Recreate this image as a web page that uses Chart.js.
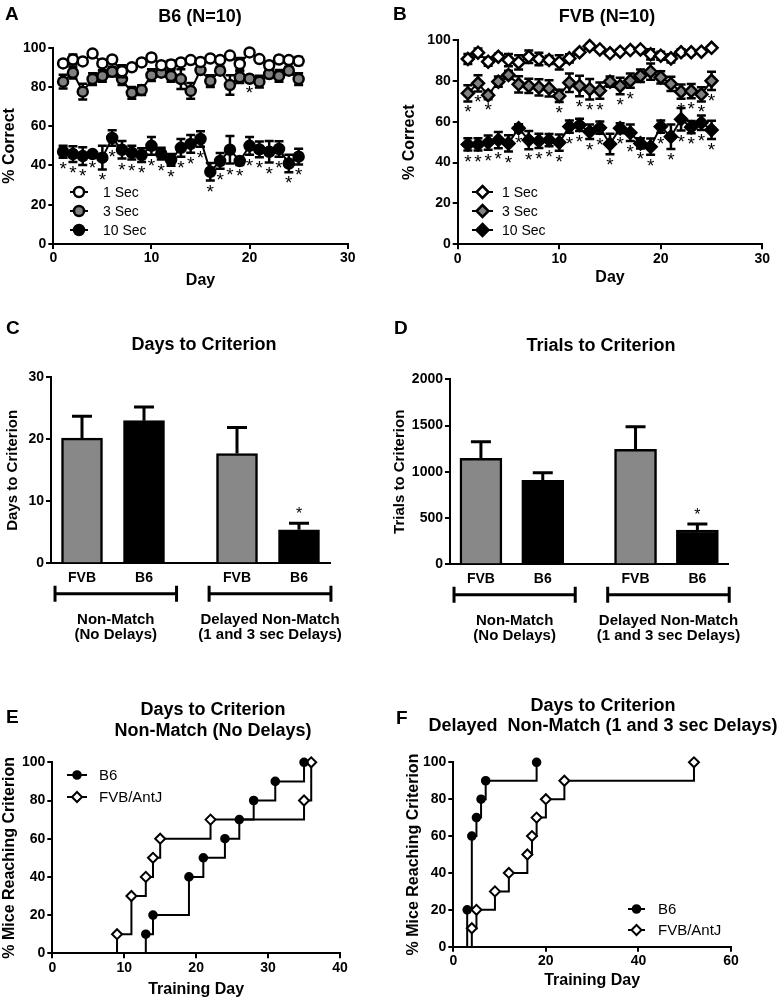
<!DOCTYPE html>
<html>
<head>
<meta charset="utf-8">
<script src="https://cdn.jsdelivr.net/npm/chart.js@4.4.0/dist/chart.umd.min.js"></script>
<style>
  body { margin: 0; background: #fff; width: 777px; height: 1000px; position: relative; overflow: hidden;
         font-family: "Liberation Sans", Arial, Helvetica, sans-serif; }
  canvas { position: absolute; }
  .lbl { position: absolute; font-weight: bold; color: #000; white-space: pre; line-height: 1; }
  .letter { font-size: 19px; transform: translate(0, -50%); }
  .title { font-size: 18px; transform: translate(-50%, -50%); }
</style>
</head>
<body>
<canvas id="chartA" width="388" height="300" style="left:0;top:0"></canvas>
<canvas id="chartB" width="389" height="300" style="left:388px;top:0"></canvas>
<canvas id="chartC" width="388" height="350" style="left:0;top:300px"></canvas>
<canvas id="chartD" width="389" height="350" style="left:388px;top:300px"></canvas>
<canvas id="chartE" width="388" height="350" style="left:0;top:650px"></canvas>
<canvas id="chartF" width="389" height="350" style="left:388px;top:650px"></canvas>

<div class="lbl letter" style="left:5px;top:12.5px">A</div>
<div class="lbl title" style="left:200px;top:16px">B6 (N=10)</div>
<div class="lbl letter" style="left:393px;top:12.5px">B</div>
<div class="lbl title" style="left:607px;top:16px">FVB (N=10)</div>
<div class="lbl letter" style="left:6px;top:327px">C</div>
<div class="lbl title" style="left:204px;top:344px">Days to Criterion</div>
<div class="lbl letter" style="left:394px;top:327px">D</div>
<div class="lbl title" style="left:601px;top:345px">Trials to Criterion</div>
<div class="lbl letter" style="left:6px;top:716px">E</div>
<div class="lbl title" style="left:213px;top:709px">Days to Criterion</div>
<div class="lbl title" style="left:213px;top:730px">Non-Match (No Delays)</div>
<div class="lbl letter" style="left:396px;top:717px">F</div>
<div class="lbl title" style="left:603px;top:705px">Days to Criterion</div>
<div class="lbl title" style="left:603px;top:725px">Delayed  Non-Match (1 and 3 sec Delays)</div>

<script>
const FONT = '"Liberation Sans", Arial, Helvetica, sans-serif';

// ---- A / B : % correct per day ----
const days = [1, 2, 3, 4, 5, 6, 7, 8, 9, 10, 11, 12, 13, 14, 15, 16, 17, 18, 19, 20, 21, 22, 23, 24, 25];
const delayNames = ['1 Sec', '3 Sec', '10 Sec'];

const b6Sec1 = [92, 94, 93, 97, 92, 94, 88, 90, 92.5, 95, 91, 91.5, 92.5, 93.7, 92.7, 94.5, 93.7, 96, 91.7, 97.6, 94.2, 91, 94, 93.7, 93.2];
const b6Sec1Err = [1.5, 2.5, 1, 1, 1.5, 1, 3, 1.5, 1, 1, 2, 2, 1.5, 1, 1, 1, 1, 1, 3, 1, 1, 2, 1.5, 1, 2];
const b6Sec3 = [82.7, 87.3, 77.6, 84, 85.6, 87.8, 84, 77, 78.4, 86, 87.3, 85.6, 84, 78, 88.6, 83, 88.3, 81, 85, 84.2, 82.7, 86.6, 85.6, 88.3, 84];
const b6Sec3Err = [3.5, 3, 4, 3, 3, 2.5, 3, 3, 2.5, 3, 2, 3, 5, 4, 2, 3, 2, 5, 3, 1.5, 3, 2, 3, 2, 3];
const b6Sec10 = [47, 45.8, 44.8, 45.8, 44, 54, 48, 46.5, 45.3, 50, 46, 42.8, 49, 51, 53.5, 36.8, 42.3, 48, 42.3, 50, 48.2, 47, 48.4, 41, 44.5];
const b6Sec10Err = [3, 4, 4.5, 1.5, 6, 4, 4.5, 3.5, 3.5, 4.5, 3, 3, 4.5, 4.5, 4, 4.5, 4, 7, 2, 4.5, 4, 5.5, 4, 4.5, 4];
const b6Star3 = [20];
const b6Star10 = [1, 2, 3, 4, 5, 6, 7, 8, 9, 10, 11, 12, 13, 14, 15, 16, 17, 18, 19, 20, 21, 22, 23, 24, 25];

const fvbSec1 = [90.7, 93.8, 89.4, 91.8, 90.2, 89, 91.8, 90.7, 90.2, 89, 91, 94, 97, 95.4, 93.5, 94.3, 95.1, 95.4, 93, 92.3, 91, 94, 94, 94.3, 96.2];
const fvbSec1Err = [2.5, 2, 2, 1.5, 3, 3.5, 3, 3, 2, 3.5, 2, 1, 1, 1, 1, 1, 1, 1, 2.5, 2, 2, 1.5, 1, 1, 1];
const fvbSec3 = [73.9, 78.8, 73, 79.6, 82.9, 78.3, 77.5, 76.8, 76.3, 72.6, 79.1, 77.5, 75.9, 75.2, 79.6, 77.5, 80.1, 82.5, 84.5, 81.7, 78.5, 74.7, 75, 73.4, 80];
const fvbSec3Err = [4, 4, 2, 2.5, 2, 4, 3.5, 4, 4, 3, 4.5, 5, 5, 4, 2.5, 4, 3.5, 3, 4, 3, 3.5, 3.5, 3.5, 3.5, 4.5];
const fvbSec10 = [48.9, 48.9, 49.8, 51, 49.4, 56.8, 51, 50.6, 51, 49.8, 57.6, 58.4, 55.1, 57.1, 49.1, 56.8, 54.6, 49.4, 47.8, 57.6, 52.7, 61.2, 57.3, 59.5, 56];
const fvbSec10Err = [3, 3, 3.5, 4, 4, 2, 4.5, 3.5, 3, 4, 3, 3, 3.5, 3, 5, 2.5, 4, 2.5, 4, 3, 6, 5.5, 3, 3.5, 4.5];
const fvbStar3 = [1, 2, 3, 10, 12, 13, 14, 16, 17, 22, 23, 24, 25];
const fvbStar10 = [1, 2, 3, 4, 5, 6, 7, 8, 9, 10, 11, 12, 13, 14, 15, 16, 17, 18, 19, 20, 21, 22, 23, 24, 25];

// ---- C / D : bars ----
const barLabels = ['FVB', 'B6', 'FVB', 'B6'];
const barSlots = [1, 3, 6, 8];
const groupNames = [['Non-Match', '(No Delays)'], ['Delayed Non-Match', '(1 and 3 sec Delays)']];
const daysMean = [20.2, 23.0, 17.7, 5.4];
const daysErr = [3.5, 2.2, 4.2, 1.05];
const trialsMean = [1146, 908, 1243, 371];
const trialsErr = [180, 83, 245, 65];
const barStars = [8];

// ---- E / F : cumulative % reaching criterion ----
const strainNames = ['B6', 'FVB/AntJ'];
const eB6Day = [13, 13, 14, 19, 21, 24, 26, 28, 31, 35];
const eB6Pct = [0, 10, 20, 40, 50, 60, 70, 80, 90, 100];
const eFvbDay = [9, 9, 11, 13, 14, 15, 22, 35, 36];
const eFvbPct = [0, 10, 30, 40, 50, 60, 70, 80, 100];
const fB6Day = [3, 3, 4, 5, 6, 7, 18];
const fB6Pct = [0, 20, 60, 70, 80, 90, 100];
const fFvbDay = [4, 4, 5, 9, 12, 16, 17, 18, 20, 24, 52];
const fFvbPct = [0, 10, 20, 30, 40, 50, 60, 70, 80, 90, 100];

const tickFont = { family: FONT, size: 14, weight: 'bold' };

function frame(W, H, pl, pt, pr, pb, yW, xH) {
  return { padding: { left: pl - yW, top: pt, right: W - pr, bottom: H - pb - xH } };
}

function yScale(min, max, step, title, width, titleSize) {
  return {
    type: 'linear', min, max,
    ticks: { stepSize: step, color: '#000', font: tickFont, padding: 2, callback: v => String(v) },
    grid: { drawOnChartArea: false, tickLength: 5, color: '#000', lineWidth: 2 },
    border: { color: '#000', width: 2 },
    title: { display: true, text: title, color: '#000', font: { family: FONT, size: titleSize, weight: 'bold' }, padding: { top: 0, bottom: 0 } },
    afterFit: s => { s.width = width; }
  };
}

function xScale(min, max, step, title, height) {
  return {
    type: 'linear', min, max,
    ticks: { stepSize: step, color: '#000', font: tickFont, padding: 1, callback: v => String(v) },
    grid: { drawOnChartArea: false, tickLength: 5, color: '#000', lineWidth: 2 },
    border: { color: '#000', width: 2 },
    title: { display: true, text: title, color: '#000', font: { family: FONT, size: 16, weight: 'bold' }, padding: { top: 0, bottom: 0 } },
    afterFit: s => { s.height = height; }
  };
}

function drawMarker(ctx, style, x, y, r, fill, lw) {
  ctx.beginPath();
  if (style === 'rectRot') {
    ctx.moveTo(x, y - r); ctx.lineTo(x + r, y); ctx.lineTo(x, y + r); ctx.lineTo(x - r, y); ctx.closePath();
  } else {
    ctx.arc(x, y, r, 0, Math.PI * 2);
  }
  ctx.fillStyle = fill;
  ctx.fill();
  ctx.lineWidth = lw;
  ctx.strokeStyle = '#000';
  ctx.stroke();
}

// error bars are drawn just before each dataset so markers sit on top
const errorBars = {
  id: 'errorBars',
  beforeDatasetDraw(chart, args) {
    const ds = chart.data.datasets[args.index];
    if (!ds.errs) return;
    const ctx = chart.ctx, ys = chart.scales.y;
    const cap = ds.errCap;
    ctx.save();
    ctx.strokeStyle = '#000';
    ctx.lineWidth = ds.errWidth;
    args.meta.data.forEach((el, i) => {
      const v = ds.data[i].y, e = ds.errs[i];
      const top = ys.getPixelForValue(v + e);
      const bot = ds.errUpOnly ? el.y : ys.getPixelForValue(v - e);
      ctx.beginPath();
      ctx.moveTo(el.x, top); ctx.lineTo(el.x, bot);
      ctx.moveTo(el.x - cap, top); ctx.lineTo(el.x + cap, top);
      if (!ds.errUpOnly) { ctx.moveTo(el.x - cap, bot); ctx.lineTo(el.x + cap, bot); }
      ctx.stroke();
    });
    ctx.restore();
  }
};

const starMarks = {
  id: 'starMarks',
  afterDatasetsDraw(chart) {
    const ctx = chart.ctx, ys = chart.scales.y;
    ctx.save();
    ctx.fillStyle = '#000';
    ctx.textAlign = 'center';
    ctx.textBaseline = 'alphabetic';
    chart.data.datasets.forEach((ds, di) => {
      if (!ds.stars) return;
      const meta = chart.getDatasetMeta(di);
      ctx.font = ds.starSize + 'px ' + FONT;
      ds.data.forEach((p, i) => {
        if (!ds.stars.includes(p.x)) return;
        const el = meta.data[i];
        if (ds.starAbove) ctx.fillText('*', el.x, ys.getPixelForValue(p.y + ds.errs[i]) - 4);
        else ctx.fillText('*', el.x, ys.getPixelForValue(p.y - ds.errs[i]) + 17);
      });
    });
    ctx.restore();
  }
};

const keyBox = {
  id: 'keyBox',
  afterDraw(chart, args, o) {
    const ctx = chart.ctx;
    ctx.save();
    chart.data.datasets.forEach((ds, i) => {
      const y = o.y + i * o.gap;
      ctx.strokeStyle = '#000';
      ctx.lineWidth = 2;
      ctx.beginPath(); ctx.moveTo(o.x, y); ctx.lineTo(o.x + o.len, y); ctx.stroke();
      drawMarker(ctx, ds.pointStyle, o.x + o.len / 2, y, ds.markR, ds.pointBackgroundColor, ds.pointBorderWidth);
      ctx.fillStyle = '#000';
      ctx.font = o.size + 'px ' + FONT;
      ctx.textAlign = 'left';
      ctx.textBaseline = 'middle';
      ctx.fillText(ds.label, o.textX, y + 1);
    });
    ctx.restore();
  }
};

const brackets = {
  id: 'brackets',
  afterDraw(chart, args, o) {
    const ctx = chart.ctx, xs = chart.scales.x;
    const y = chart.chartArea.bottom + o.drop;
    ctx.save();
    ctx.strokeStyle = '#000';
    ctx.fillStyle = '#000';
    ctx.lineWidth = 3;
    ctx.font = 'bold 15px ' + FONT;
    ctx.textAlign = 'center';
    ctx.textBaseline = 'middle';
    groupNames.forEach((lines, g) => {
      const x0 = xs.getPixelForValue(o.spans[g][0]), x1 = xs.getPixelForValue(o.spans[g][1]);
      ctx.beginPath();
      ctx.moveTo(x0, y); ctx.lineTo(x1, y);
      ctx.moveTo(x0, y - 8); ctx.lineTo(x0, y + 8);
      ctx.moveTo(x1, y - 8); ctx.lineTo(x1, y + 8);
      ctx.stroke();
      lines.forEach((t, k) => ctx.fillText(t, (x0 + x1) / 2, y + 26 + k * 15));
    });
    ctx.restore();
  }
};

const baseOptions = (layout, scales, extra) => ({
  responsive: false,
  animation: false,
  events: [],
  layout,
  scales,
  plugins: Object.assign({ legend: { display: false }, tooltip: { enabled: false }, title: { display: false } }, extra || {})
});

function delaySet(label, values, errs, stars, style, fill, r) {
  return {
    label,
    data: days.map((d, i) => ({ x: d, y: values[i] })),
    errs, stars, starSize: 19, errCap: 4.5, errWidth: 2.5, markR: r,
    borderColor: '#000', borderWidth: 2, tension: 0, clip: false,
    pointStyle: style, pointRadius: r, pointBorderWidth: 2.5,
    pointBackgroundColor: fill, pointBorderColor: '#000'
  };
}

// A
new Chart(document.getElementById('chartA'), {
  type: 'line',
  data: {
    datasets: [
      delaySet(delayNames[0], b6Sec1, b6Sec1Err, null, 'circle', '#fff', 5),
      delaySet(delayNames[1], b6Sec3, b6Sec3Err, b6Star3, 'circle', '#808080', 5),
      delaySet(delayNames[2], b6Sec10, b6Sec10Err, b6Star10, 'circle', '#000', 5)
    ]
  },
  options: baseOptions(frame(388, 300, 53.3, 47.7, 347.7, 244, 53.3, 46.6),
    { x: xScale(0, 30, 10, 'Day', 46.6), y: yScale(0, 100, 20, '% Correct', 53.3, 16) },
    { keyBox: { x: 70, y: 192, gap: 19, len: 18, textX: 103, size: 14 } }),
  plugins: [errorBars, starMarks, keyBox]
});

// B
new Chart(document.getElementById('chartB'), {
  type: 'line',
  data: {
    datasets: [
      delaySet(delayNames[0], fvbSec1, fvbSec1Err, null, 'rectRot', '#fff', 6),
      delaySet(delayNames[1], fvbSec3, fvbSec3Err, fvbStar3, 'rectRot', '#808080', 6),
      delaySet(delayNames[2], fvbSec10, fvbSec10Err, fvbStar10, 'rectRot', '#000', 6)
    ]
  },
  options: baseOptions(frame(389, 300, 69.7, 40, 374.3, 244.3, 57.3, 42.6),
    { x: xScale(0, 30, 10, 'Day', 42.6), y: yScale(0, 100, 20, '% Correct', 57.3, 16) },
    { keyBox: { x: 84, y: 192, gap: 19, len: 21, textX: 114, size: 14 } }),
  plugins: [errorBars, starMarks, keyBox]
});

function barChart(id, W, H, geo, means, errs, yMax, yStep, yTitle, yW) {
  const xs = xScale(0, 9, 1, '', 30);
  xs.title = { display: false };
  xs.offset = false;
  xs.grid = { drawOnChartArea: false, drawTicks: false, offset: false };
  xs.ticks = { color: '#000', font: tickFont, padding: 6, autoSkip: false, maxRotation: 0,
               callback: v => barLabels[barSlots.indexOf(v)] };
  xs.afterBuildTicks = s => { s.ticks = barSlots.map(v => ({ value: v })); };
  new Chart(document.getElementById(id), {
    type: 'bar',
    data: {
      datasets: [{
        data: barSlots.map((s, i) => ({ x: s, y: means[i] })),
        errs, stars: barStars, starAbove: true, starSize: 16, errUpOnly: true, errCap: 10, errWidth: 3,
        backgroundColor: ['#888888', '#000000', '#888888', '#000000'],
        borderColor: '#000', borderWidth: 2.5, barThickness: geo.bar, clip: false
      }]
    },
    options: baseOptions(frame(W, H, geo.l, geo.t, geo.r, geo.b, yW, 30),
      { x: xs, y: yScale(0, yMax, yStep, yTitle, yW, 15) },
      { brackets: { drop: 30.5, spans: [[0.13, 4.05], [5.1, 9.03]] } }),
    plugins: [errorBars, starMarks, brackets]
  });
}

barChart('chartC', 388, 350, { l: 51, t: 77.3, r: 330, b: 263.3, bar: 41 }, daysMean, daysErr, 30, 10, 'Days to Criterion', 46.7);
barChart('chartD', 389, 350, { l: 62, t: 79.3, r: 340.3, b: 264.3, bar: 42 }, trialsMean, trialsErr, 2000, 500, 'Trials to Criterion', 59);

function stepSet(label, xsArr, ysArr, style, fill, r) {
  return {
    label,
    data: xsArr.map((d, i) => ({ x: d, y: ysArr[i] })),
    stepped: true, markR: r,
    borderColor: '#000', borderWidth: 2, clip: false,
    pointStyle: style, pointRadius: c => (c.dataIndex === 0 ? 0 : r), pointBorderWidth: 2,
    pointBackgroundColor: fill, pointBorderColor: '#000'
  };
}

// E
new Chart(document.getElementById('chartE'), {
  type: 'line',
  data: {
    datasets: [
      stepSet(strainNames[0], eB6Day, eB6Pct, 'circle', '#000', 3.8),
      stepSet(strainNames[1], eFvbDay, eFvbPct, 'rectRot', '#fff', 5)
    ]
  },
  options: baseOptions(frame(388, 350, 52.3, 112.3, 340, 303.3, 52.3, 46.3),
    { x: xScale(0, 40, 10, 'Training Day', 46.3), y: yScale(0, 100, 20, '% Mice Reaching Criterion', 52.3, 16) },
    { keyBox: { x: 67, y: 125, gap: 22, len: 20, textX: 99, size: 15 } }),
  plugins: [keyBox]
});

// F
new Chart(document.getElementById('chartF'), {
  type: 'line',
  data: {
    datasets: [
      stepSet(strainNames[0], fB6Day, fB6Pct, 'circle', '#000', 3.8),
      stepSet(strainNames[1], fFvbDay, fFvbPct, 'rectRot', '#fff', 5)
    ]
  },
  options: baseOptions(frame(389, 350, 65.3, 112.3, 343, 296.7, 49.6, 43.6),
    { x: xScale(0, 60, 20, 'Training Day', 43.6), y: yScale(0, 100, 20, '% Mice Reaching Criterion', 49.6, 16) },
    { keyBox: { x: 240, y: 259, gap: 21, len: 17, textX: 270, size: 15 } }),
  plugins: [keyBox]
});
</script>
</body>
</html>
